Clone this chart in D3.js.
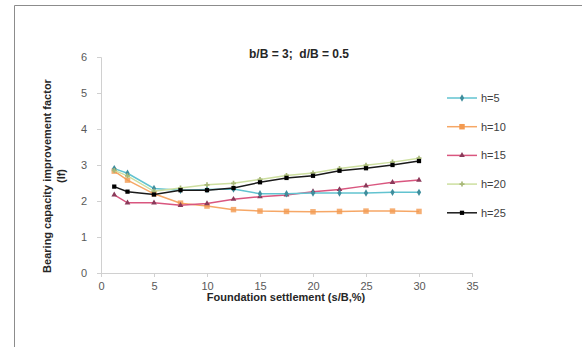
<!DOCTYPE html>
<html>
<head>
<meta charset="utf-8">
<script src="https://cdn.jsdelivr.net/npm/d3@7"></script>
<style>
  body { margin: 0; background: #fff; }
  svg { display: block; font-family: "Liberation Sans", Arial, sans-serif; }
  .pre { white-space: pre; }
</style>
</head>
<body>
<svg id="chart" width="582" height="347"></svg>
<script>
const settlement = [1.25, 2.5, 5, 7.5, 10, 12.5, 15, 17.5, 20, 22.5, 25, 27.5, 30];
const h5  = [2.90, 2.77, 2.35, 2.30, 2.32, 2.33, 2.20, 2.20, 2.22, 2.22, 2.22, 2.24, 2.24];
const h10 = [2.83, 2.58, 2.20, 1.94, 1.86, 1.76, 1.72, 1.71, 1.70, 1.71, 1.72, 1.72, 1.71];
const h15 = [2.17, 1.95, 1.95, 1.88, 1.93, 2.05, 2.12, 2.17, 2.26, 2.32, 2.42, 2.52, 2.58];
const h20 = [2.85, 2.70, 2.27, 2.36, 2.45, 2.49, 2.60, 2.71, 2.78, 2.90, 2.99, 3.08, 3.19];
const h25 = [2.40, 2.26, 2.18, 2.30, 2.30, 2.36, 2.52, 2.64, 2.70, 2.84, 2.91, 3.00, 3.11];
const seriesNames = ["h=5", "h=10", "h=15", "h=20", "h=25"];
const xTicks = [0, 5, 10, 15, 20, 25, 30, 35];
const yTicks = [0, 1, 2, 3, 4, 5, 6];
const titleText = "b/B = 3;  d/B = 0.5";
const xTitle = "Foundation settlement (s/B,%)";
const yTitle1 = "Bearing capacity improvement factor";
const yTitle2 = "(If)";

const series = [
  { name: seriesNames[0], values: h5,  color: "#62c3d0", marker: d3.symbolDiamond,  size: 16, mfill: "#3f8d9c" },
  { name: seriesNames[1], values: h10, color: "#f6a766", marker: d3.symbolSquare,   size: 30, mfill: "#f39a50" },
  { name: seriesNames[2], values: h15, color: "#d9567f", marker: d3.symbolTriangle, size: 14, mfill: "#8a3a5a" },
  { name: seriesNames[3], values: h20, color: "#cddfa0", marker: d3.symbolCross,    size: 14, mfill: "#a8b878" },
  { name: seriesNames[4], values: h25, color: "#1a1a1a", marker: d3.symbolSquare,   size: 18, mfill: "#000000" }
];

const svg = d3.select("#chart");

// outer frame
svg.append("path").attr("d", "M14.5,347 V5.5 H582").attr("fill", "none").attr("stroke", "#8c8c8c").attr("stroke-width", 1);

const x = d3.scaleLinear().domain([0, 35]).range([101, 472]);
const y = d3.scaleLinear().domain([0, 6]).range([273, 57]);

// axes
const xAxis = d3.axisBottom(x).tickValues(xTicks).tickSize(4).tickPadding(5).tickFormat(d3.format("d"));
const gx = svg.append("g").attr("transform", `translate(0,${y(0)})`).call(xAxis);
gx.select(".domain").attr("stroke", "#d0d0d0");
gx.selectAll(".tick line").attr("stroke", "#d0d0d0");
gx.selectAll("text").attr("fill", "#595959").attr("font-size", 11).attr("font-family", "Liberation Sans, Arial, sans-serif");

const yAxis = d3.axisLeft(y).tickValues(yTicks).tickSize(4).tickPadding(10).tickFormat(d3.format("d"));
const gy = svg.append("g").attr("transform", `translate(${x(0)},0)`).call(yAxis);
gy.select(".domain").attr("stroke", "#d0d0d0");
gy.selectAll(".tick line").attr("stroke", "#d0d0d0");
gy.selectAll("text").attr("fill", "#595959").attr("font-size", 11).attr("font-family", "Liberation Sans, Arial, sans-serif");

// lines
const line = d3.line().x((d, i) => x(settlement[i])).y(d => y(d));
const order = [1, 2, 0, 3, 4];
order.forEach(k => {
  const s = series[k];
  svg.append("path").datum(s.values).attr("d", line)
    .attr("fill", "none").attr("stroke", s.color).attr("stroke-width", 1.5);
  svg.append("g").selectAll("path").data(s.values).join("path")
    .attr("transform", (d, i) => `translate(${x(settlement[i])},${y(d)})`)
    .attr("d", d3.symbol().type(s.marker).size(s.size))
    .attr("fill", s.mfill)
    .attr("fill-opacity", k === 1 ? 0.8 : 1);
});

// title
svg.append("text").attr("class", "pre").attr("x", 299).attr("y", 58).attr("text-anchor", "middle")
  .attr("font-size", 12).attr("font-weight", "bold").attr("fill", "#262626").text(titleText);

// x title
svg.append("text").attr("x", 286).attr("y", 301).attr("text-anchor", "middle")
  .attr("font-size", 11).attr("font-weight", "bold").attr("fill", "#262626").text(xTitle);

// y title
const yt = svg.append("text").attr("transform", "translate(51,176) rotate(-90)")
  .attr("text-anchor", "middle").attr("font-size", 11).attr("font-weight", "bold").attr("fill", "#262626");
yt.append("tspan").attr("x", 0).attr("dy", 0).text(yTitle1);
yt.append("tspan").attr("x", 0).attr("dy", 14).text(yTitle2);

// legend
const lg = svg.append("g");
series.forEach((s, i) => {
  const ly = 98 + i * 28.7;
  lg.append("line").attr("x1", 447).attr("x2", 477).attr("y1", ly).attr("y2", ly)
    .attr("stroke", s.color).attr("stroke-width", 1.5);
  lg.append("path").attr("transform", `translate(462,${ly})`)
    .attr("d", d3.symbol().type(s.marker).size(s.size))
    .attr("fill", s.mfill);
  lg.append("text").attr("x", 481).attr("y", ly + 4).attr("font-size", 11)
    .attr("fill", "#404040").text(s.name);
});
</script>
</body>
</html>
